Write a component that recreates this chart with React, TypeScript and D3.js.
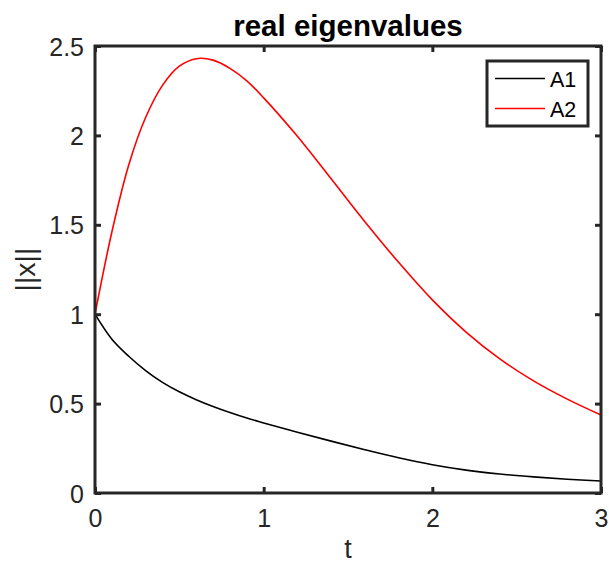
import * as d3 from 'd3'
import { useEffect, useRef } from 'react'

// time samples and norms
const T = [0, 0.1, 0.2, 0.3, 0.4, 0.5, 0.6, 0.7, 0.8, 0.9, 1.0, 1.2, 1.4, 1.6, 1.8, 2.0, 2.2, 2.4, 2.6, 2.8, 3.0]
const A1 = [1.0, 0.86, 0.765, 0.685, 0.619, 0.566, 0.522, 0.484, 0.45, 0.419, 0.392, 0.34, 0.29, 0.242, 0.197, 0.158, 0.128, 0.106, 0.09, 0.077, 0.067]
const A2 = [1.0, 1.46, 1.835, 2.1, 2.28, 2.387, 2.429, 2.421, 2.375, 2.305, 2.21, 1.995, 1.757, 1.517, 1.29, 1.08, 0.9, 0.75, 0.627, 0.525, 0.436]
const SERIES = [
  { name: 'A1', color: '#000000', values: A1 },
  { name: 'A2', color: '#ff0000', values: A2 },
]
const X_TICKS = [0, 1, 2, 3]
const Y_TICKS = [0, 0.5, 1, 1.5, 2, 2.5]

const FONT = '"Liberation Sans", Arial, Helvetica, sans-serif'
const AXIS_COLOR = '#262626'

export default function App() {
  const ref = useRef<HTMLDivElement>(null)

  useEffect(() => {
    const width = 609
    const height = 564
    const left = 95
    const right = 601
    const top = 46
    const bottom = 493

    const x = d3.scaleLinear().domain([0, 3]).range([left, right])
    const y = d3.scaleLinear().domain([0, 2.5]).range([bottom, top])

    const svg = d3
      .create('svg')
      .attr('width', width)
      .attr('height', height)
      .attr('viewBox', [0, 0, width, height])
      .attr('style', 'position:absolute;left:0;top:0;background:#fff;')

    /* curves */
    const line = d3
      .line<number>()
      .x((_, i) => x(T[i]))
      .y((d) => y(d))
      .curve(d3.curveCatmullRom.alpha(0.5))

    svg
      .append('g')
      .selectAll('path')
      .data(SERIES)
      .join('path')
      .attr('fill', 'none')
      .attr('stroke', (d) => d.color)
      .attr('stroke-width', 1.6)
      .attr('d', (d) => line(d.values))

    /* axes: ticks inside, on all four sides */
    const styleAxis = (g: d3.Selection<SVGGElement, unknown, null, undefined>) => {
      g.select('.domain').remove()
      g.selectAll('.tick line').attr('stroke', AXIS_COLOR).attr('stroke-width', 3)
      g.selectAll('.tick text')
        .attr('fill', AXIS_COLOR)
        .attr('font-family', FONT)
        .attr('font-size', 25)
    }

    svg
      .append('g')
      .attr('transform', `translate(0,${bottom})`)
      .call(d3.axisBottom(x).tickValues(X_TICKS).tickSize(-6).tickFormat((d) => String(d)))
      .call(styleAxis)
      .call((g) => g.selectAll('.tick text').attr('y', 34).attr('dy', 0))

    svg
      .append('g')
      .attr('transform', `translate(0,${top})`)
      .call(d3.axisTop(x).tickValues(X_TICKS).tickSize(-6).tickFormat(() => ''))
      .call(styleAxis)

    svg
      .append('g')
      .attr('transform', `translate(${left},0)`)
      .call(d3.axisLeft(y).tickValues(Y_TICKS).tickSize(-6).tickPadding(11).tickFormat((d) => String(d)))
      .call(styleAxis)
      .call((g) => g.selectAll('.tick text').attr('dy', '0.36em'))

    svg
      .append('g')
      .attr('transform', `translate(${right},0)`)
      .call(d3.axisRight(y).tickValues(Y_TICKS).tickSize(-6).tickFormat(() => ''))
      .call(styleAxis)

    svg
      .append('rect')
      .attr('x', left)
      .attr('y', top)
      .attr('width', right - left)
      .attr('height', bottom - top)
      .attr('fill', 'none')
      .attr('stroke', AXIS_COLOR)
      .attr('stroke-width', 3)

    /* title and labels */
    svg
      .append('text')
      .attr('x', (left + right) / 2)
      .attr('y', 36)
      .attr('text-anchor', 'middle')
      .attr('font-family', FONT)
      .attr('font-size', 29.5)
      .attr('font-weight', 'bold')
      .attr('fill', '#000')
      .text('real eigenvalues')

    svg
      .append('text')
      .attr('x', (left + right) / 2)
      .attr('y', 558)
      .attr('text-anchor', 'middle')
      .attr('font-family', FONT)
      .attr('font-size', 27)
      .attr('fill', AXIS_COLOR)
      .text('t')

    svg
      .append('text')
      .attr('transform', `translate(35,${(top + bottom) / 2}) rotate(-90)`)
      .attr('text-anchor', 'middle')
      .attr('font-family', FONT)
      .attr('font-size', 28.5)
      .attr('fill', AXIS_COLOR)
      .text('||x||')

    /* legend */
    const legend = svg.append('g')
    legend
      .append('rect')
      .attr('x', 487)
      .attr('y', 61)
      .attr('width', 101)
      .attr('height', 65)
      .attr('fill', '#fff')
      .attr('stroke', AXIS_COLOR)
      .attr('stroke-width', 3)

    const items = legend
      .selectAll('g')
      .data(SERIES)
      .join('g')
      .attr('transform', (_, i) => `translate(0,${78.5 + i * 30})`)
    items
      .append('line')
      .attr('x1', 495)
      .attr('x2', 545)
      .attr('stroke', (d) => d.color)
      .attr('stroke-width', 1.6)
    items
      .append('text')
      .attr('x', 550)
      .attr('y', 8.5)
      .attr('font-family', FONT)
      .attr('font-size', 21.5)
      .attr('fill', '#000')
      .text((d) => d.name)

    const node = svg.node()
    if (ref.current && node) {
      ref.current.innerHTML = ''
      ref.current.appendChild(node)
    }
  }, [])

  return <div ref={ref} />
}
